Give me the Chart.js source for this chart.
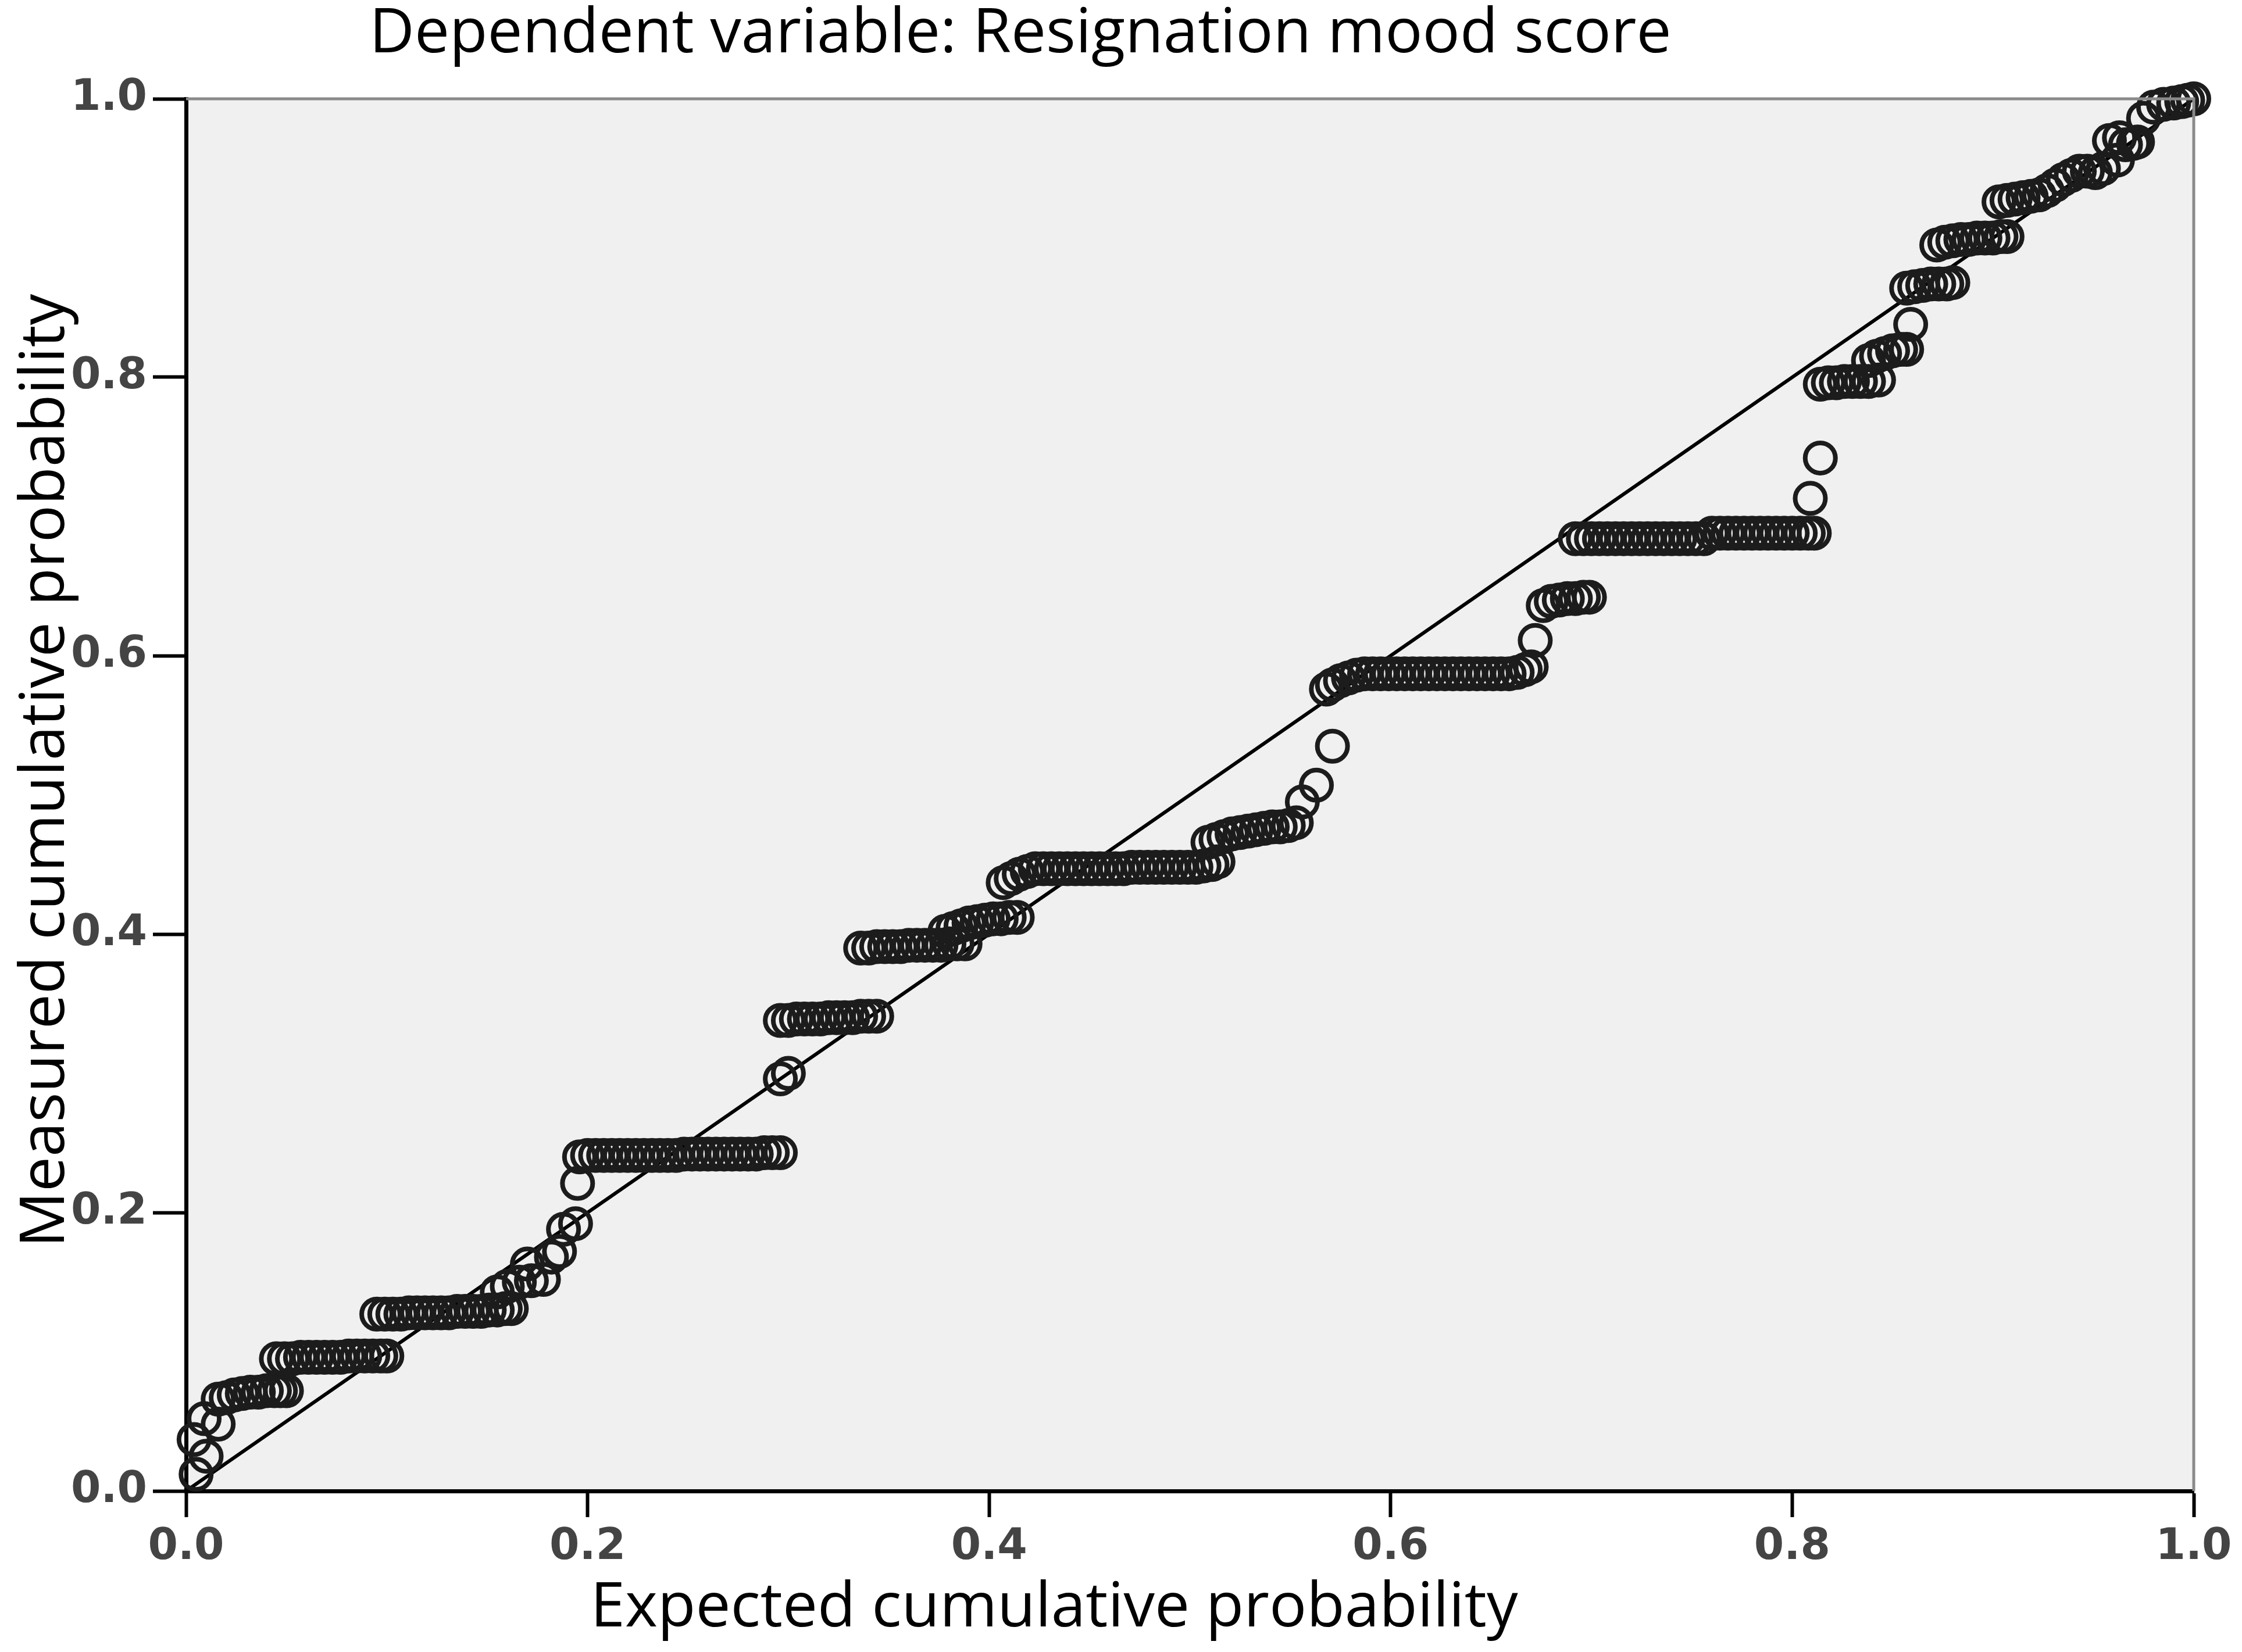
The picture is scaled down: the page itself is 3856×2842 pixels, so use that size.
<!DOCTYPE html>
<html>
<head>
<meta charset="utf-8">
<script src="https://cdn.jsdelivr.net/npm/chart.js@4.4.1/dist/chart.umd.min.js"></script>
<style>
  html, body { margin: 0; padding: 0; background: #fff; }
  #wrap { width: 3856px; height: 2842px; }
</style>
</head>
<body>
<div id="wrap"><canvas id="ppChart" width="3856" height="2842"></canvas></div>
<script>
// P-P plot of regression residuals (one line per cluster)
const expectedProb = [
  0.005, 0.010, 0.004, 0.009, 0.016,
  0.016, 0.020, 0.024, 0.028, 0.032, 0.036, 0.040, 0.044, 0.047, 0.050,
  0.045, 0.049, 0.053, 0.057, 0.061, 0.065, 0.069, 0.073, 0.077, 0.081, 0.085, 0.089, 0.093, 0.097, 0.100,
  0.095, 0.099, 0.103, 0.107, 0.111, 0.115, 0.119, 0.123, 0.127, 0.131, 0.135, 0.139, 0.143, 0.147, 0.151, 0.155, 0.159, 0.162,
  0.155, 0.160, 0.166, 0.172, 0.178,
  0.170, 0.182, 0.186, 0.188, 0.194, 0.195,
  0.196, 0.200, 0.204, 0.208, 0.212, 0.216, 0.220, 0.224, 0.228, 0.232, 0.236, 0.240, 0.244,
  0.248, 0.252, 0.256, 0.260, 0.264, 0.268, 0.272, 0.276, 0.280, 0.284, 0.288, 0.292, 0.296,
  0.296, 0.300,
  0.296, 0.300, 0.304, 0.308, 0.312, 0.316, 0.320, 0.324, 0.328, 0.332, 0.336, 0.340, 0.344,
  0.336, 0.340, 0.344, 0.348, 0.352, 0.356, 0.360, 0.364, 0.368, 0.372, 0.376, 0.380, 0.384, 0.388,
  0.378, 0.382, 0.386, 0.390, 0.394, 0.398, 0.402, 0.406, 0.410, 0.414,
  0.407, 0.411, 0.415, 0.419, 0.423, 0.427, 0.431, 0.435, 0.439, 0.443, 0.447, 0.451, 0.455, 0.459,
  0.463, 0.467, 0.471, 0.475, 0.479, 0.483, 0.487, 0.491, 0.495, 0.499, 0.503, 0.507, 0.511, 0.514,
  0.509, 0.513, 0.517, 0.521, 0.525, 0.529, 0.533, 0.537, 0.541, 0.545, 0.549, 0.553,
  0.556, 0.563, 0.571,
  0.568, 0.571, 0.575, 0.579, 0.583, 0.587, 0.591, 0.595, 0.599, 0.603, 0.607, 0.611, 0.615, 0.619,
  0.623, 0.627, 0.631, 0.635, 0.639, 0.643, 0.647, 0.651, 0.655, 0.659, 0.663, 0.667, 0.670,
  0.672,
  0.676, 0.680, 0.684, 0.688, 0.692, 0.696, 0.699,
  0.692, 0.696, 0.700, 0.704, 0.708, 0.712, 0.716, 0.720, 0.724, 0.728, 0.732, 0.736, 0.740, 0.744, 0.748, 0.752, 0.756,
  0.760, 0.764, 0.768, 0.772, 0.776, 0.780, 0.784, 0.788, 0.792, 0.796, 0.800, 0.804, 0.808, 0.811,
  0.809, 0.814,
  0.814, 0.818, 0.822, 0.826, 0.830, 0.834, 0.838, 0.843,
  0.838, 0.842, 0.846, 0.850, 0.854, 0.857,
  0.859,
  0.857, 0.861, 0.865, 0.869, 0.873, 0.877, 0.880,
  0.872, 0.876, 0.880, 0.884, 0.888, 0.892, 0.896, 0.900, 0.904, 0.907,
  0.903, 0.907, 0.911, 0.915, 0.919, 0.923, 0.927, 0.931, 0.935, 0.939,
  0.943, 0.947, 0.951, 0.955, 0.958, 0.962, 0.963, 0.966, 0.970, 0.972,
  0.975, 0.980, 0.985, 0.990, 0.994, 0.997, 1.000
];
const measuredProb = [
  0.012, 0.025, 0.037, 0.052, 0.048,
  0.066, 0.067, 0.069, 0.070, 0.071, 0.071, 0.072, 0.072, 0.072, 0.072,
  0.095, 0.095, 0.095, 0.096, 0.096, 0.096, 0.096, 0.096, 0.096, 0.097, 0.097, 0.097, 0.097, 0.097, 0.097,
  0.127, 0.127, 0.127, 0.127, 0.128, 0.128, 0.128, 0.128, 0.128, 0.128, 0.129, 0.129, 0.129, 0.129, 0.130, 0.130, 0.131, 0.131,
  0.143, 0.147, 0.150, 0.151, 0.152,
  0.163, 0.168, 0.172, 0.188, 0.192, 0.221,
  0.240, 0.241, 0.241, 0.241, 0.241, 0.241, 0.241, 0.241, 0.241, 0.241, 0.241, 0.241, 0.241,
  0.242, 0.242, 0.242, 0.242, 0.242, 0.242, 0.242, 0.242, 0.242, 0.242, 0.243, 0.243, 0.243,
  0.296, 0.300,
  0.338, 0.338, 0.339, 0.339, 0.339, 0.339, 0.340, 0.340, 0.340, 0.340, 0.341, 0.341, 0.341,
  0.390, 0.390, 0.391, 0.391, 0.391, 0.391, 0.392, 0.392, 0.392, 0.392, 0.392, 0.393, 0.393, 0.393,
  0.402, 0.404, 0.406, 0.408, 0.409, 0.410, 0.411, 0.411, 0.412, 0.412,
  0.437, 0.440, 0.443, 0.445, 0.447, 0.447, 0.447, 0.447, 0.447, 0.447, 0.447, 0.447, 0.447, 0.447,
  0.447, 0.447, 0.448, 0.448, 0.448, 0.448, 0.448, 0.448, 0.448, 0.448, 0.448, 0.449, 0.450, 0.452,
  0.466, 0.468, 0.470, 0.472, 0.473, 0.474, 0.475, 0.476, 0.477, 0.477, 0.478, 0.480,
  0.495, 0.507, 0.535,
  0.576, 0.579, 0.582, 0.584, 0.586, 0.587, 0.587, 0.587, 0.587, 0.587, 0.587, 0.587, 0.587, 0.587,
  0.587, 0.587, 0.587, 0.587, 0.587, 0.587, 0.587, 0.587, 0.587, 0.587, 0.588, 0.590, 0.592,
  0.611,
  0.636, 0.639, 0.640, 0.641, 0.641, 0.642, 0.642,
  0.684, 0.684, 0.684, 0.684, 0.684, 0.684, 0.684, 0.684, 0.684, 0.684, 0.684, 0.684, 0.684, 0.684, 0.684, 0.684, 0.684,
  0.688, 0.688, 0.688, 0.688, 0.688, 0.688, 0.688, 0.688, 0.688, 0.688, 0.688, 0.688, 0.688, 0.688,
  0.713, 0.742,
  0.795, 0.796, 0.796, 0.797, 0.797, 0.797, 0.797, 0.798,
  0.812, 0.815, 0.817, 0.819, 0.820, 0.820,
  0.838,
  0.864, 0.865, 0.866, 0.867, 0.867, 0.867, 0.868,
  0.895, 0.897, 0.898, 0.899, 0.899, 0.900, 0.900, 0.900, 0.901, 0.901,
  0.926, 0.927, 0.928, 0.929, 0.930, 0.931, 0.934, 0.938, 0.942, 0.945,
  0.948, 0.948, 0.947, 0.950, 0.970, 0.956, 0.972, 0.967, 0.968, 0.969,
  0.986, 0.994, 0.996, 0.997, 0.998, 0.999, 1.000
];
const refLineX = [0, 1];
const refLineY = [0, 1];
const tickValues = [0, 0.2, 0.4, 0.6, 0.8, 1.0];

const chartTitle = 'Dependent variable: Resignation mood score';
const xTitle = 'Expected cumulative probability';
const yTitle = 'Measured cumulative probability';

const points = expectedProb.map((x, i) => ({ x: x, y: measuredProb[i] }));
const refLine = refLineX.map((x, i) => ({ x: x, y: refLineY[i] }));

const textFont = '"Open Sans", "Noto Sans", sans-serif';

// plot background, thin gray top/right frame and the three text labels
const framePlugin = {
  id: 'frame',
  beforeDraw(chart) {
    const { ctx, chartArea: a } = chart;
    ctx.save();
    ctx.fillStyle = '#f0f0f0';
    ctx.fillRect(a.left, a.top, a.right - a.left, a.bottom - a.top);
    ctx.restore();
  },
  afterDraw(chart) {
    const { ctx, chartArea: a } = chart;
    ctx.save();
    ctx.strokeStyle = '#8a8a8a';
    ctx.lineWidth = 5;
    ctx.beginPath();
    ctx.moveTo(a.left, a.top);
    ctx.lineTo(a.right, a.top);
    ctx.lineTo(a.right, a.bottom);
    ctx.stroke();

    ctx.fillStyle = '#000';
    ctx.textAlign = 'center';
    ctx.textBaseline = 'alphabetic';
    ctx.font = '107px ' + textFont;
    ctx.fillText(chartTitle, 1755, 90);

    ctx.font = '107px ' + textFont;
    ctx.fillText(xTitle, 1813, 2798);

    ctx.translate(110, 1326);
    ctx.rotate(-Math.PI / 2);
    ctx.fillText(yTitle, 0, 0);
    ctx.restore();
  }
};

const tickFont = { family: '"DejaVu Sans", sans-serif', size: 74, weight: 'bold' };

new Chart(document.getElementById('ppChart'), {
  type: 'scatter',
  data: {
    datasets: [
      {
        label: 'Reference',
        type: 'line',
        data: refLine,
        borderColor: '#000',
        borderWidth: 6,
        pointRadius: 0,
        fill: false,
        order: 2
      },
      {
        label: 'Residuals',
        data: points,
        pointRadius: 26,
        pointBorderWidth: 8,
        pointBorderColor: '#1c1c1c',
        pointBackgroundColor: 'rgba(0,0,0,0)',
        pointHoverRadius: 26,
        clip: false,
        order: 1
      }
    ]
  },
  options: {
    responsive: false,
    devicePixelRatio: 1,
    animation: false,
    events: [],
    layout: { padding: { top: 170, right: 83, left: 0, bottom: 0 } },
    plugins: {
      legend: { display: false },
      title: { display: false },
      tooltip: { enabled: false }
    },
    scales: {
      x: {
        type: 'linear',
        min: 0,
        max: 1,
        afterBuildTicks(scale) { scale.ticks = tickValues.map(v => ({ value: v })); },
        afterFit(scale) { scale.height = 277; },
        ticks: {
          font: tickFont,
          color: '#444',
          padding: 8,
          maxRotation: 0,
          callback: v => v.toFixed(1)
        },
        grid: {
          drawOnChartArea: false,
          drawTicks: true,
          tickLength: 45,
          tickColor: '#000',
          tickWidth: 6
        },
        border: { display: true, color: '#000', width: 7 },
        title: { display: false }
      },
      y: {
        type: 'linear',
        min: 0,
        max: 1,
        afterBuildTicks(scale) { scale.ticks = tickValues.map(v => ({ value: v })); },
        afterFit(scale) { scale.width = 320; },
        ticks: {
          font: tickFont,
          color: '#444',
          padding: 10,
          callback: v => v.toFixed(1)
        },
        grid: {
          drawOnChartArea: false,
          drawTicks: true,
          tickLength: 57,
          tickColor: '#000',
          tickWidth: 6
        },
        border: { display: true, color: '#000', width: 7 },
        title: { display: false }
      }
    }
  },
  plugins: [framePlugin]
});
</script>
</body>
</html>
